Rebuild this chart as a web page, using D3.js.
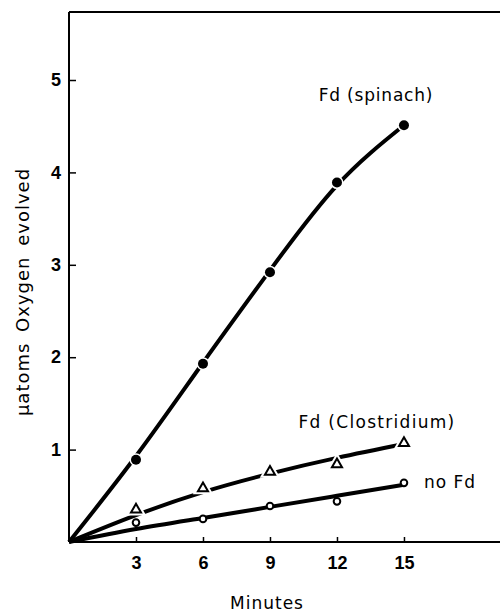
<!DOCTYPE html>
<html>
<head>
<meta charset="utf-8">
<script src="https://cdn.jsdelivr.net/npm/d3@7"></script>
<style>
  body { margin: 0; background: #fff; }
  text { font-family: "DejaVu Sans", sans-serif; fill: #000; }
</style>
</head>
<body>
<div id="chart"></div>
<script>
// measured points (minutes vs uatoms O2)
var minutes = [3, 6, 9, 12, 15];
var spinach = [0.89, 1.93, 2.92, 3.89, 4.51];
var clostridium = [0.35, 0.58, 0.76, 0.84, 1.07];
var noFd = [0.21, 0.25, 0.39, 0.44, 0.64];

// hand drawn fitted curves, from the origin
var fitMinutes = [0, 3, 6, 9, 12, 15];
var spinachFit = [0, 0.93, 1.94, 2.94, 3.86, 4.51];
var clostridiumFit = [0, 0.29, 0.54, 0.74, 0.91, 1.06];
var noFdFit = [0, 0.14, 0.26, 0.38, 0.5, 0.62];

var xTicks = [3, 6, 9, 12, 15];
var yTicks = [1, 2, 3, 4, 5];

var margin = {top: 12, right: 0, bottom: 73, left: 69},
    width = 500 - margin.left - margin.right,
    height = 615 - margin.top - margin.bottom;

var svg = d3.select("#chart")
  .append("svg")
  .attr("width", 500)
  .attr("height", 615);

var chartGroup = svg.append("g")
  .attr("transform", `translate(${margin.left}, ${margin.top})`);

var x = d3.scaleLinear().domain([0, 19.3]).range([0, width]);
var y = d3.scaleLinear().domain([0, 5.736]).range([height, 0]);

// frame: top line and axes
chartGroup.append("line")
  .attr("x1", 0).attr("x2", width)
  .attr("y1", 0).attr("y2", 0)
  .attr("stroke", "#000").attr("stroke-width", 2);

var xAxis = chartGroup.append("g")
  .attr("transform", `translate(0, ${height})`)
  .call(d3.axisBottom(x).tickValues(xTicks).tickFormat(d3.format("d")).tickSize(-5).tickPadding(14));

var yAxis = chartGroup.append("g")
  .call(d3.axisLeft(y).tickValues(yTicks).tickFormat(d3.format("d")).tickSize(-7).tickPadding(8));

[xAxis, yAxis].forEach(function(a) {
  a.select(".domain").attr("stroke-width", 2);
  a.selectAll(".tick line").attr("stroke-width", 1.5);
  a.selectAll(".tick text")
    .style("font-family", "Liberation Sans, sans-serif")
    .style("font-weight", "bold")
    .style("font-size", "18px");
});
// left axis runs to the top line
yAxis.select(".domain").attr("d", `M0,${height}V0`);
xAxis.select(".domain").attr("d", `M0,0H${width}`);

// curves
var line = d3.line()
  .x(d => x(d[0]))
  .y(d => y(d[1]))
  .curve(d3.curveNatural);

[spinachFit, clostridiumFit, noFdFit].forEach(function(fit) {
  chartGroup.append("path")
    .datum(fitMinutes.map((m, i) => [m, fit[i]]))
    .attr("d", line)
    .attr("fill", "none")
    .attr("stroke", "#000")
    .attr("stroke-width", 4);
});

// markers with white halo to break the line
chartGroup.selectAll(".spinach")
  .data(minutes.map((m, i) => [m, spinach[i]]))
  .enter().append("circle")
  .attr("cx", d => x(d[0]))
  .attr("cy", d => y(d[1]))
  .attr("r", 5)
  .attr("fill", "#000")
  .attr("stroke", "#fff")
  .attr("stroke-width", 3)
  .attr("paint-order", "stroke");

var tri = d3.symbol().type(d3.symbolTriangle).size(44);
chartGroup.selectAll(".clos")
  .data(minutes.map((m, i) => [m, clostridium[i]]))
  .enter().append("path")
  .attr("d", tri)
  .attr("transform", d => `translate(${x(d[0])}, ${y(d[1])})`)
  .attr("fill", "#fff")
  .attr("stroke", "#fff")
  .attr("stroke-width", 6);
chartGroup.selectAll(".clos2")
  .data(minutes.map((m, i) => [m, clostridium[i]]))
  .enter().append("path")
  .attr("d", tri)
  .attr("transform", d => `translate(${x(d[0])}, ${y(d[1])})`)
  .attr("fill", "#fff")
  .attr("stroke", "#000")
  .attr("stroke-width", 2);

chartGroup.selectAll(".nofd")
  .data(minutes.map((m, i) => [m, noFd[i]]))
  .enter().append("circle")
  .attr("cx", d => x(d[0]))
  .attr("cy", d => y(d[1]))
  .attr("r", 3.3)
  .attr("fill", "#fff")
  .attr("stroke", "#000")
  .attr("stroke-width", 2);

// curve labels
chartGroup.append("text")
  .attr("x", 307).attr("y", 89)
  .attr("text-anchor", "middle")
  .style("font-size", "17px")
  .style("letter-spacing", "0.8px")
  .text("Fd (spinach)");

chartGroup.append("text")
  .attr("x", 308).attr("y", 416)
  .attr("text-anchor", "middle")
  .style("font-size", "17px")
  .style("letter-spacing", "1.3px")
  .text("Fd (Clostridium)");

chartGroup.append("text")
  .attr("x", 355).attr("y", 476)
  .style("font-size", "17px")
  .style("letter-spacing", "1px")
  .text("no Fd");

// axis titles
svg.append("text")
  .attr("x", 267).attr("y", 609)
  .attr("text-anchor", "middle")
  .style("font-size", "17px")
  .style("letter-spacing", "1px")
  .text("Minutes");

svg.append("text")
  .attr("transform", "translate(29, 292) rotate(-90)")
  .attr("text-anchor", "middle")
  .style("font-size", "18px")
  .style("letter-spacing", "1px")
  .style("word-spacing", "4px")
  .text("µatoms Oxygen evolved");
</script>
</body>
</html>
